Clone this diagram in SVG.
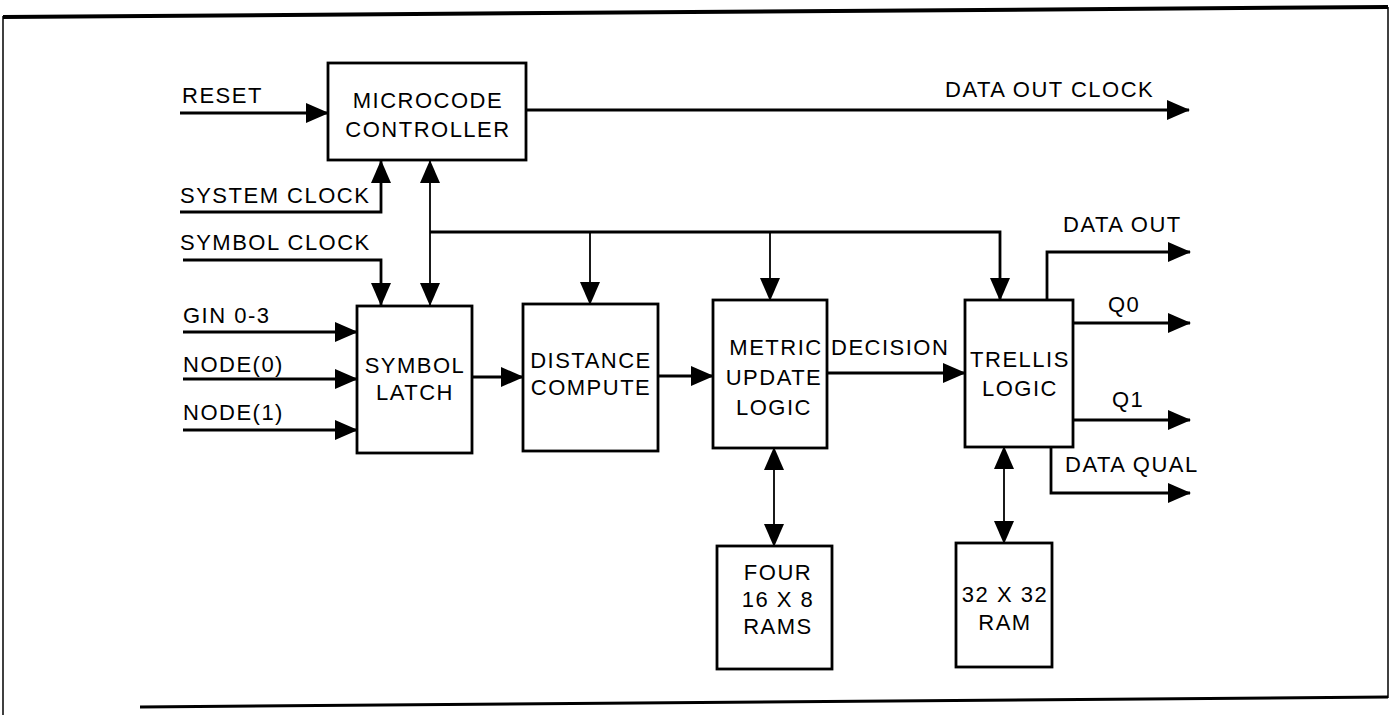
<svg xmlns="http://www.w3.org/2000/svg" width="1392" height="715" viewBox="0 0 1392 715">
<defs>
<marker id="ah" viewBox="0 0 23 20" refX="22" refY="10" markerWidth="23" markerHeight="20" markerUnits="userSpaceOnUse" orient="auto-start-reverse">
<path d="M0,0 L23,10 L0,20 Z" fill="#000"/>
</marker>
</defs>
<style>
text{font-family:"Liberation Sans",Arial,sans-serif;font-size:22px;letter-spacing:1.5px;fill:#000}
.c{text-anchor:middle}
.box{fill:#fff;stroke:#000;stroke-width:2.8}
.w{fill:none;stroke:#000;stroke-width:2.8}
.t{fill:none;stroke:#000;stroke-width:1.8}
.frame{fill:none;stroke:#000}
</style>
<rect width="1392" height="715" fill="#fff"/>
<g id="frame">
<line class="frame" x1="3" y1="17" x2="1388" y2="7" stroke-width="4"/>
<line class="frame" x1="3" y1="16" x2="3" y2="715" stroke-width="1.5"/>
<line class="frame" x1="1388" y1="7" x2="1388" y2="698" stroke-width="1.5"/>
<line class="frame" x1="140" y1="707" x2="1388" y2="697" stroke-width="3"/>
</g>
<g id="connectors">
<path class="w" d="M180,113 H328" marker-end="url(#ah)"/>
<path class="w" d="M180,212 H381 V161" marker-end="url(#ah)"/>
<path class="w" d="M183,260 H381 V305" marker-end="url(#ah)"/>
<path class="t" d="M430,161 V305" marker-start="url(#ah)" marker-end="url(#ah)"/>
<path class="w" d="M430,232 H1000 V300" marker-end="url(#ah)"/>
<path class="t" d="M590,232 V304" marker-end="url(#ah)"/>
<path class="t" d="M770,232 V300" marker-end="url(#ah)"/>
<path class="w" d="M183,332 H357" marker-end="url(#ah)"/>
<path class="w" d="M183,379 H357" marker-end="url(#ah)"/>
<path class="w" d="M183,430 H357" marker-end="url(#ah)"/>
<path class="w" d="M472,377 H523" marker-end="url(#ah)"/>
<path class="w" d="M658,376 H713" marker-end="url(#ah)"/>
<path class="w" d="M827,373 H965" marker-end="url(#ah)"/>
<path class="w" d="M526,110 H1189" marker-end="url(#ah)"/>
<path class="w" d="M1047,300 V252 H1190" marker-end="url(#ah)"/>
<path class="w" d="M1073,323 H1190" marker-end="url(#ah)"/>
<path class="w" d="M1073,420 H1190" marker-end="url(#ah)"/>
<path class="w" d="M1051,447 V493 H1190" marker-end="url(#ah)"/>
<path class="t" d="M774,448 V546" marker-start="url(#ah)" marker-end="url(#ah)"/>
<path class="t" d="M1004,447 V543" marker-start="url(#ah)" marker-end="url(#ah)"/>
</g>
<g id="labels">
<text x="182" y="103">RESET</text>
<text x="180" y="203">SYSTEM CLOCK</text>
<text x="180" y="250">SYMBOL CLOCK</text>
<text x="183" y="323">GIN 0-3</text>
<text x="183" y="372">NODE(0)</text>
<text x="183" y="420">NODE(1)</text>
<text x="945" y="97">DATA OUT CLOCK</text>
<text x="1063" y="232">DATA OUT</text>
<text x="1108" y="312">Q0</text>
<text x="1112" y="407">Q1</text>
<text x="1065" y="472">DATA QUAL</text>
<text x="831" y="355">DECISION</text>
</g>
<g id="microcode">
<rect class="box" x="328" y="63" width="198" height="97"/>
<text class="c" x="428" y="108">MICROCODE</text>
<text class="c" x="428" y="137">CONTROLLER</text>
</g>
<g id="symbol-latch">
<rect class="box" x="357" y="306" width="115" height="147"/>
<text class="c" x="415" y="373">SYMBOL</text>
<text class="c" x="415" y="400">LATCH</text>
</g>
<g id="distance">
<rect class="box" x="523" y="304" width="135" height="147"/>
<text class="c" x="591" y="368">DISTANCE</text>
<text class="c" x="591" y="395">COMPUTE</text>
</g>
<g id="metric">
<rect class="box" x="713" y="300" width="114" height="148"/>
<text class="c" x="776" y="355">METRIC</text>
<text class="c" x="774" y="385">UPDATE</text>
<text class="c" x="774" y="415">LOGIC</text>
</g>
<g id="trellis">
<rect class="box" x="965" y="300" width="108" height="147"/>
<text class="c" x="1020" y="367">TRELLIS</text>
<text class="c" x="1020" y="396">LOGIC</text>
</g>
<g id="rams">
<rect class="box" x="717" y="546" width="115" height="123"/>
<text class="c" x="778" y="580">FOUR</text>
<text class="c" x="778" y="607">16 X 8</text>
<text class="c" x="778" y="634">RAMS</text>
</g>
<g id="ram32">
<rect class="box" x="956" y="543" width="96" height="124"/>
<text class="c" x="1005" y="602">32 X 32</text>
<text class="c" x="1005" y="630">RAM</text>
</g>
</svg>
